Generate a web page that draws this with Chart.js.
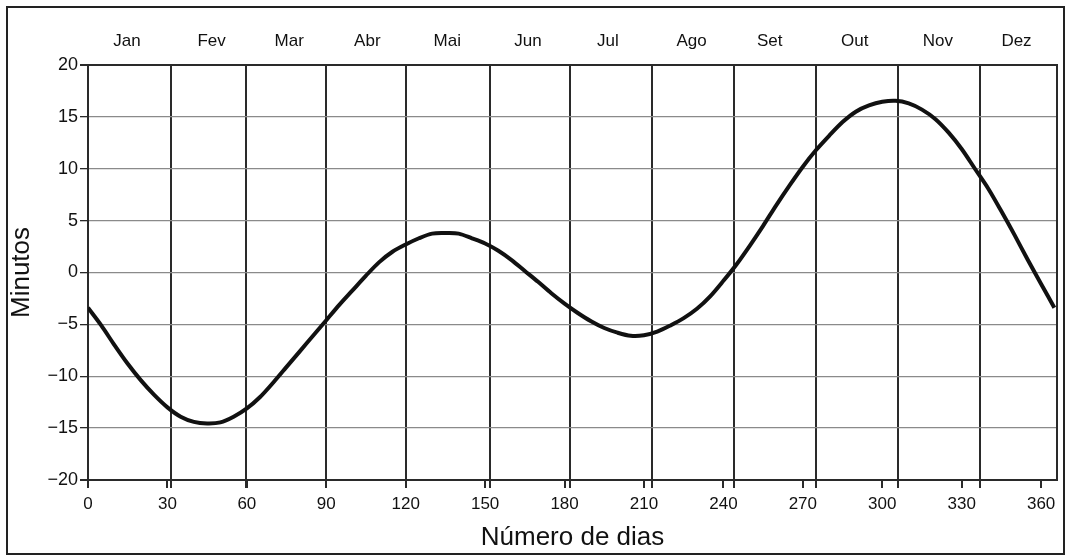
<!DOCTYPE html>
<html>
<head>
<meta charset="utf-8">
<script src="https://cdn.jsdelivr.net/npm/chart.js@4"></script>
<style>
  html, body { margin: 0; padding: 0; background: #fff; }
  #frame { position: absolute; left: 6px; top: 6px; width: 1059px; height: 549px; box-sizing: border-box; border: 2px solid #222; }
  #grafico { position: absolute; left: 0; top: 0; }
</style>
</head>
<body>
<div id="frame"></div>
<canvas id="grafico" width="1071" height="557"></canvas>
<script>
// dias do ano e equacao do tempo (minutos)
var dias = [0, 5, 10, 15, 20, 25, 30, 35, 40, 45, 50, 55, 60, 65, 70, 75, 80, 85, 90, 95,
  100, 105, 110, 115, 120, 125, 130, 135, 140, 145, 150, 155, 160, 165, 170, 175, 180, 185,
  190, 195, 200, 205, 210, 215, 220, 225, 230, 235, 240, 245, 250, 255, 260, 265, 270, 275,
  280, 285, 290, 295, 300, 305, 310, 315, 320, 325, 330, 335, 340, 345, 350, 355, 360, 365];
var minutos = [-3.4, -5.1, -7.0, -8.8, -10.4, -11.8, -13.0, -13.9, -14.4, -14.55, -14.45, -13.9,
  -13.1, -12.0, -10.6, -9.1, -7.6, -6.1, -4.6, -3.1, -1.7, -0.3, 1.0, 2.0, 2.7, 3.3, 3.75, 3.8,
  3.75, 3.3, 2.8, 2.1, 1.2, 0.15, -0.9, -2.0, -3.0, -3.9, -4.7, -5.35, -5.8, -6.1, -6.05, -5.7,
  -5.1, -4.4, -3.5, -2.3, -0.8, 0.8, 2.6, 4.5, 6.5, 8.4, 10.2, 11.8, 13.2, 14.5, 15.5, 16.1,
  16.45, 16.55, 16.3, 15.7, 14.8, 13.5, 11.9, 10.0, 8.1, 5.9, 3.6, 1.2, -1.1, -3.4];

var meses = ['Jan', 'Fev', 'Mar', 'Abr', 'Mai', 'Jun', 'Jul', 'Ago', 'Set', 'Out', 'Nov', 'Dez'];
var meioMes = [14.7, 46.7, 76, 105.5, 135.7, 166.2, 196.4, 228, 257.5, 289.6, 321, 350.7];
var inicioMes = [31.3, 59.5, 90, 120, 152, 182, 213, 244, 275, 306, 337];
var ticksDias = [0, 30, 60, 90, 120, 150, 180, 210, 240, 270, 300, 330, 360];
var ticksMin = [-20, -15, -10, -5, 0, 5, 10, 15, 20];

var pontos = dias.map(function (d, i) { return { x: d, y: minutos[i] }; });

var fonte = 'Liberation Sans, Arial, sans-serif';
var ticksX = ticksDias.concat(inicioMes.filter(function (v) { return ticksDias.indexOf(v) < 0; }))
  .sort(function (a, b) { return a - b; });

function ehInicio(v) { return inicioMes.indexOf(v) >= 0; }

Chart.defaults.font.family = fonte;
Chart.defaults.color = '#111';

new Chart(document.getElementById('grafico'), {
  type: 'line',
  data: {
    datasets: [{
      data: pontos,
      borderColor: '#111',
      borderWidth: 4,
      pointRadius: 0,
      tension: 0.3,
      fill: false
    }]
  },
  options: {
    responsive: false,
    animation: false,
    devicePixelRatio: 1,
    layout: { padding: { left: 4, right: 14, top: 8, bottom: 4 } },
    plugins: { legend: { display: false }, tooltip: { enabled: false } },
    scales: {
      x: {
        type: 'linear',
        position: 'bottom',
        min: 0,
        max: 366,
        afterBuildTicks: function (s) { s.ticks = ticksX.map(function (v) { return { value: v }; }); },
        afterFit: function (s) { s.height = 73; },
        ticks: {
          autoSkip: false,
          maxRotation: 0,
          padding: 6,
          font: { size: 17 },
          callback: function (v) { return ticksDias.indexOf(v) >= 0 ? String(v) : ''; }
        },
        grid: {
          color: function (c) { return c.tick && ehInicio(c.tick.value) ? '#2a2a2a' : 'rgba(0,0,0,0)'; },
          lineWidth: 2,
          tickColor: '#2a2a2a',
          tickLength: 8
        },
        border: { color: '#2a2a2a', width: 2 },
        title: { display: true, text: 'Número de dias', font: { size: 26 }, padding: { top: 0, bottom: 0 } }
      },
      xt: {
        type: 'linear',
        position: 'top',
        min: 0,
        max: 366,
        afterBuildTicks: function (s) { s.ticks = meioMes.map(function (v) { return { value: v }; }); },
        afterFit: function (s) { s.height = 57; },
        ticks: {
          autoSkip: false,
          maxRotation: 0,
          padding: 13,
          font: { size: 17 },
          callback: function (v, i) { return meses[i]; }
        },
        grid: { display: false, drawTicks: false },
        border: { display: false }
      },
      y: {
        min: -20,
        max: 20,
        afterBuildTicks: function (s) { s.ticks = ticksMin.map(function (v) { return { value: v }; }); },
        afterFit: function (s) { s.width = 84; },
        ticks: {
          padding: 2,
          font: { size: 18 },
          callback: function (v) { return v < 0 ? '\u2212' + Math.abs(v) : String(v); }
        },
        grid: {
          color: function (c) { return c.tick && Math.abs(c.tick.value) === 20 ? '#2a2a2a' : '#8a8a8a'; },
          lineWidth: function (c) { return c.tick && Math.abs(c.tick.value) === 20 ? 2 : 1.3; },
          tickColor: '#2a2a2a',
          tickLength: 8
        },
        border: { color: '#2a2a2a', width: 2 },
        title: { display: true, text: 'Minutos', font: { size: 26 }, padding: { top: 2, bottom: 0 } }
      },
      y2: {
        position: 'right',
        afterFit: function (s) { s.width = 0; },
        ticks: { display: false },
        grid: { drawOnChartArea: false, drawTicks: false },
        border: { color: '#2a2a2a', width: 2 }
      }
    }
  }
});
</script>
</body>
</html>
